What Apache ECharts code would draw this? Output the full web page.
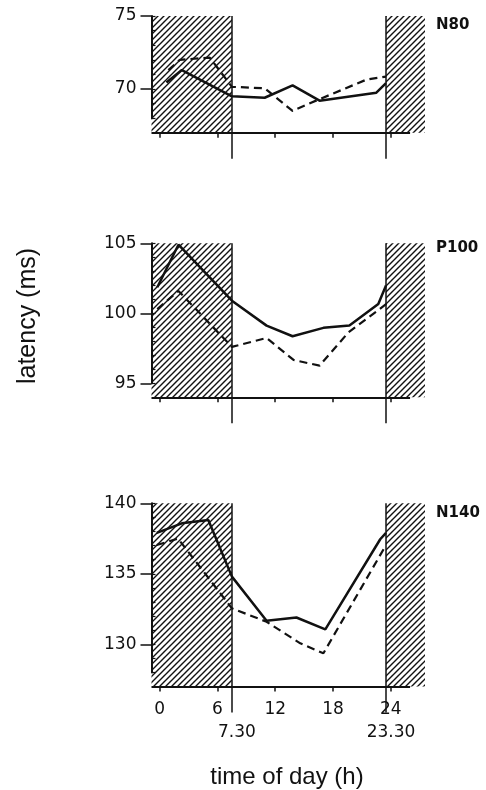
<!DOCTYPE html>
<html>
<head>
<meta charset="utf-8">
<script src="https://cdn.jsdelivr.net/npm/echarts@6/dist/echarts.min.js"></script>
<style>
html,body{margin:0;padding:0;background:#fff;}
#chart{width:486px;height:790px;}
</style>
</head>
<body>
<div id="chart"></div>
<script>
// 数据：每个点 [时刻(h), 潜伏期(ms)]
var panelNames = ['N80', 'P100', 'N140'];
var n80Solid = [[0.7,70.45],[2.3,71.3],[7.5,69.5],[10.9,69.4],[13.8,70.25],[16.6,69.2],[22.5,69.75],[23.5,70.4]];
var n80Dashed = [[0.9,71.3],[2.1,72.0],[5.2,72.15],[7.5,70.15],[10.9,70.05],[13.8,68.5],[16.4,69.25],[21.5,70.65],[23.5,70.85]];
var p100Solid = [[-0.25,101.86],[1.95,104.9],[7.5,100.9],[11.1,99.12],[13.8,98.36],[17.0,98.96],[19.7,99.12],[22.7,100.67],[23.5,101.98]];
var p100Dashed = [[-0.25,100.3],[1.95,101.6],[7.5,97.6],[11.1,98.24],[13.9,96.67],[16.6,96.26],[19.6,98.64],[23.7,100.75]];
var n140Solid = [[-0.3,137.9],[2.3,138.58],[5.05,138.82],[7.5,134.8],[11.1,131.67],[14.2,131.9],[17.2,131.06],[22.9,137.45],[23.5,137.9]];
var n140Dashed = [[-0.3,137.04],[1.9,137.5],[7.5,132.55],[11.1,131.6],[14.6,130.07],[17.0,129.36],[23.5,137.04]];
var solidData = [n80Solid, p100Solid, n140Solid];
var dashedData = [n80Dashed, p100Dashed, n140Dashed];

// 坐标轴
var yMins = [67, 94, 127];
var yLows = [68, 95, 128];
var yMaxs = [75, 105, 140];
var yTickVals = [[70, 75], [95, 100, 105], [130, 135, 140]];
var xTickVals = [0, 6, 12, 18, 24];
var clockVals = [7.5, 23.5];
var clockLabels = ['7.30', '23.30'];
var xRange = [-0.85, 27.55];
var axisEnd = 26;

// 布局
var gridTops = [16, 243.3, 503.3];
var unitPx = [14.6, 14, 14.1];

// 斜线阴影
var hatch = document.createElement('canvas');
hatch.width = 6;
hatch.height = 6;
var ctx = hatch.getContext('2d');
ctx.strokeStyle = '#111';
ctx.lineWidth = 1.4;
ctx.beginPath();
ctx.moveTo(0, 6); ctx.lineTo(6, 0);
ctx.moveTo(-1, 1); ctx.lineTo(1, -1);
ctx.moveTo(5, 7); ctx.lineTo(7, 5);
ctx.stroke();

var ink = '#111';
var tickFont = 'DejaVu Sans';
var grids = [], xAxes = [], yAxes = [], series = [];

for (var i = 0; i < 3; i++) {
    var hA = unitPx[i] * (yMaxs[i] - yMins[i]);
    var hB = unitPx[i] * (yMaxs[i] - yLows[i]);
    var last = (i == 2);
    grids.push({left: 151.5, right: 61, top: gridTops[i], height: hA});
    grids.push({left: 151.5, right: 61, top: gridTops[i], height: hB});
    var gA = 2 * i, gB = 2 * i + 1;

    // 主x轴
    xAxes.push({
        type: 'value', gridIndex: gA, position: 'bottom', min: xRange[0], max: xRange[1],
        axisLine: {show: false}, splitLine: {show: false},
        axisTick: {show: true, customValues: xTickVals, length: 5, lineStyle: {color: ink, width: 1.5}},
        axisLabel: {show: last, customValues: xTickVals, margin: 14, fontSize: 17, color: ink, fontFamily: tickFont}
    });
    // 7.30 / 23.30
    xAxes.push({
        type: 'value', gridIndex: gA, position: 'bottom', min: xRange[0], max: xRange[1],
        axisLine: {show: false}, splitLine: {show: false},
        axisTick: {show: true, customValues: clockVals, length: 26, lineStyle: {color: ink, width: 1.5}},
        axisLabel: {
            show: last, customValues: clockVals, margin: 37, fontSize: 17, color: ink, fontFamily: tickFont,
            padding: [0, 0, 0, 10],
            formatter: function (v) { return clockLabels[clockVals.indexOf(v)]; }
        }
    });
    xAxes.push({type: 'value', gridIndex: gB, show: false, min: xRange[0], max: xRange[1]});

    yAxes.push({type: 'value', gridIndex: gA, show: false, min: yMins[i], max: yMaxs[i]});
    yAxes.push({
        type: 'value', gridIndex: gB, position: 'left', min: yLows[i], max: yMaxs[i],
        axisLine: {show: true, onZero: false, lineStyle: {color: ink, width: 2}},
        axisTick: {show: true, customValues: yTickVals[i], length: 11, lineStyle: {color: ink, width: 1.5}},
        axisLabel: {customValues: yTickVals[i], margin: 15, fontSize: 17, color: ink, fontFamily: tickFont},
        splitLine: {show: false}
    });
    yAxes.push({
        type: 'value', gridIndex: gB, position: 'left', min: yLows[i], max: yMaxs[i], interval: 1,
        axisLine: {show: false, onZero: false}, axisLabel: {show: false}, splitLine: {show: false},
        axisTick: {show: true, inside: true, length: 4, lineStyle: {color: ink, width: 1.2}}
    });

    series.push({
        type: 'line', xAxisIndex: 3 * i, yAxisIndex: 3 * i, data: solidData[i],
        symbol: 'none', clip: false, z: 3,
        lineStyle: {color: ink, width: 2.5},
        markArea: {
            silent: true,
            itemStyle: {color: {image: hatch, repeat: 'repeat'}, borderWidth: 0},
            data: [
                [{xAxis: xRange[0]}, {xAxis: clockVals[0]}],
                [{xAxis: clockVals[1]}, {xAxis: xRange[1]}]
            ]
        },
        markLine: {
            silent: true, symbol: 'none', label: {show: false},
            lineStyle: {color: ink, width: 1.5, type: 'solid'},
            data: [
                {xAxis: clockVals[0]},
                {xAxis: clockVals[1]},
                [{coord: [xRange[0], yMins[i]], lineStyle: {width: 2}}, {coord: [axisEnd, yMins[i]]}]
            ]
        }
    });
    series.push({
        type: 'line', xAxisIndex: 3 * i, yAxisIndex: 3 * i, data: dashedData[i],
        symbol: 'none', z: 3,
        lineStyle: {color: ink, width: 2.2, type: [8, 5]}
    });
}

var labelYs = [25, 248, 513];
var graphics = [
    {type: 'text', x: 28, y: 316, rotation: Math.PI / 2,
        style: {text: 'latency (ms)', fontSize: 25, fontFamily: 'Liberation Sans', fill: ink, align: 'center', verticalAlign: 'middle'}},
    {type: 'text', x: 287, y: 777,
        style: {text: 'time of day (h)', fontSize: 24, fontFamily: 'Liberation Sans', fill: ink, align: 'center', verticalAlign: 'middle'}}
];
for (var k = 0; k < panelNames.length; k++) {
    graphics.push({type: 'text', x: 436, y: labelYs[k],
        style: {text: panelNames[k], fontSize: 15, fontWeight: 'bold', fontFamily: tickFont, fill: ink, align: 'left', verticalAlign: 'middle'}});
}

var mychart = echarts.init(document.getElementById('chart'));
mychart.setOption({
    backgroundColor: '#fff',
    animation: false,
    grid: grids,
    xAxis: xAxes,
    yAxis: yAxes,
    series: series,
    graphic: graphics
});
</script>
</body>
</html>
